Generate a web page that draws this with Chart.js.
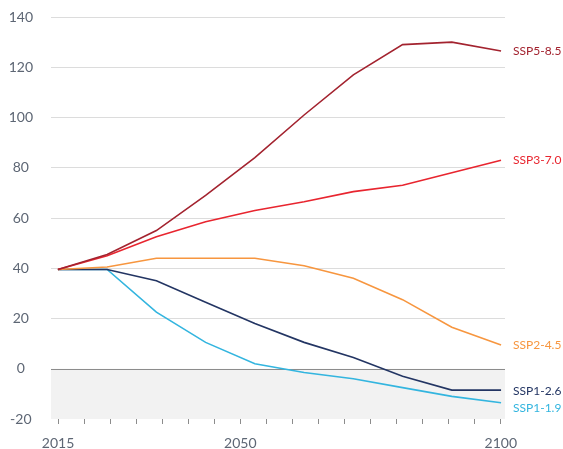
<!DOCTYPE html>
<html>
<head>
<meta charset="utf-8">
<script src="https://cdn.jsdelivr.net/npm/chart.js@4"></script>
<style>
  html, body { margin: 0; padding: 0; background: #fff; }
  #wrap { width: 563px; height: 449px; position: relative; }
</style>
</head>
<body>
<div id="wrap"><canvas id="chart"></canvas></div>
<script>
// data (points are spaced evenly in the source figure)
const years = [2015, 2020, 2030, 2040, 2050, 2060, 2070, 2080, 2090, 2100];
const ssp585 = [39.5, 45.5, 55, 69, 84, 101, 117, 129, 130, 126.5];
const ssp370 = [39.5, 45, 52.5, 58.5, 63, 66.5, 70.5, 73, 78, 83];
const ssp245 = [39.5, 40.5, 44, 44, 44, 41, 36, 27.5, 16.5, 9.5];
const ssp126 = [39.5, 39.5, 35, 26.5, 18, 10.5, 4.5, -3, -8.5, -8.5];
const ssp119 = [39.5, 39.5, 22.5, 10.5, 2, -1.5, -4, -7.5, -11, -13.5];
const seriesNames = ['SSP5-8.5', 'SSP3-7.0', 'SSP2-4.5', 'SSP1-2.6', 'SSP1-1.9'];
const yTicks = [-20, 0, 20, 40, 60, 80, 100, 120, 140];
const yearLabels = [2015, 2050, 2100];

const colors = ['#a3232f', '#e8252f', '#f7963f', '#233563', '#33b5df'];
const labelNudge = [0, 0, 0, 1, 5];

function toPoints(vals) {
    return vals.map((v, i) => ({ x: i, y: v }));
}

const shadeBelowZero = {
    id: 'shadeBelowZero',
    beforeDatasetsDraw(chart) {
        const { ctx, chartArea, scales } = chart;
        const y0 = scales.y.getPixelForValue(0);
        const y1 = scales.y.getPixelForValue(yTicks[0]);
        ctx.save();
        ctx.fillStyle = '#f2f2f2';
        ctx.fillRect(chartArea.left, y0, chartArea.right - chartArea.left, y1 - y0);
        ctx.strokeStyle = '#8c8c8c';
        ctx.lineWidth = 1;
        ctx.beginPath();
        ctx.moveTo(chartArea.left, Math.round(y0) + 0.5);
        ctx.lineTo(chartArea.right, Math.round(y0) + 0.5);
        ctx.stroke();
        ctx.restore();
    }
};

const endLabels = {
    id: 'endLabels',
    afterDatasetsDraw(chart) {
        const { ctx, chartArea } = chart;
        ctx.save();
        ctx.font = '12px Lato';
        ctx.textBaseline = 'middle';
        ctx.textAlign = 'left';
        chart.data.datasets.forEach((ds, i) => {
            const pts = chart.getDatasetMeta(i).data;
            const last = pts[pts.length - 1];
            ctx.fillStyle = colors[i];
            ctx.fillText(ds.label, chartArea.right + 8, last.y + labelNudge[i]);
        });
        ctx.restore();
    }
};

const allSeries = [ssp585, ssp370, ssp245, ssp126, ssp119];

new Chart(document.getElementById('chart'), {
    type: 'line',
    data: {
        datasets: allSeries.map((vals, i) => ({
            label: seriesNames[i],
            data: toPoints(vals),
            borderColor: colors[i],
            borderWidth: 1.6,
            pointRadius: 0,
            tension: 0,
            xAxisID: 'x',
            yAxisID: 'y'
        }))
    },
    options: {
        responsive: true,
        maintainAspectRatio: false,
        animation: false,
        layout: { padding: { top: 17, right: 58, bottom: 0, left: 0 } },
        plugins: {
            legend: { display: false },
            tooltip: { enabled: false }
        },
        scales: {
            x: {
                type: 'linear',
                display: false,
                min: -0.14,
                max: 9.08
            },
            yr: {
                type: 'linear',
                position: 'bottom',
                min: 2013.65,
                max: 2100.8,
                border: { display: false },
                grid: {
                    drawOnChartArea: false,
                    drawTicks: true,
                    tickLength: 5,
                    color: '#8c8c8c'
                },
                ticks: {
                    stepSize: 5,
                    includeBounds: false,
                    autoSkip: false,
                    maxRotation: 0,
                    padding: 11,
                    color: '#5d6674',
                    font: { family: 'Lato', size: 14 },
                    callback: v => yearLabels.includes(v) ? String(v) : ''
                },
                afterFit(scale) { scale.height = 30; }
            },
            y: {
                min: yTicks[0],
                max: yTicks[yTicks.length - 1],
                border: { display: false },
                grid: {
                    drawTicks: false,
                    color: ctx => (ctx.tick.value === 0 || ctx.tick.value === yTicks[0]) ? 'rgba(0,0,0,0)' : '#dcdcdc'
                },
                afterBuildTicks(scale) { scale.ticks = yTicks.map(v => ({ value: v })); },
                ticks: {
                    crossAlign: 'center',
                    padding: 18,
                    color: '#5d6674',
                    font: { family: 'Lato', size: 14 }
                },
                afterFit(scale) {
                    scale.width = 51;
                    scale.paddingTop = 0;
                    scale.paddingBottom = 0;
                }
            }
        }
    },
    plugins: [shadeBelowZero, endLabels]
});
</script>
</body>
</html>
